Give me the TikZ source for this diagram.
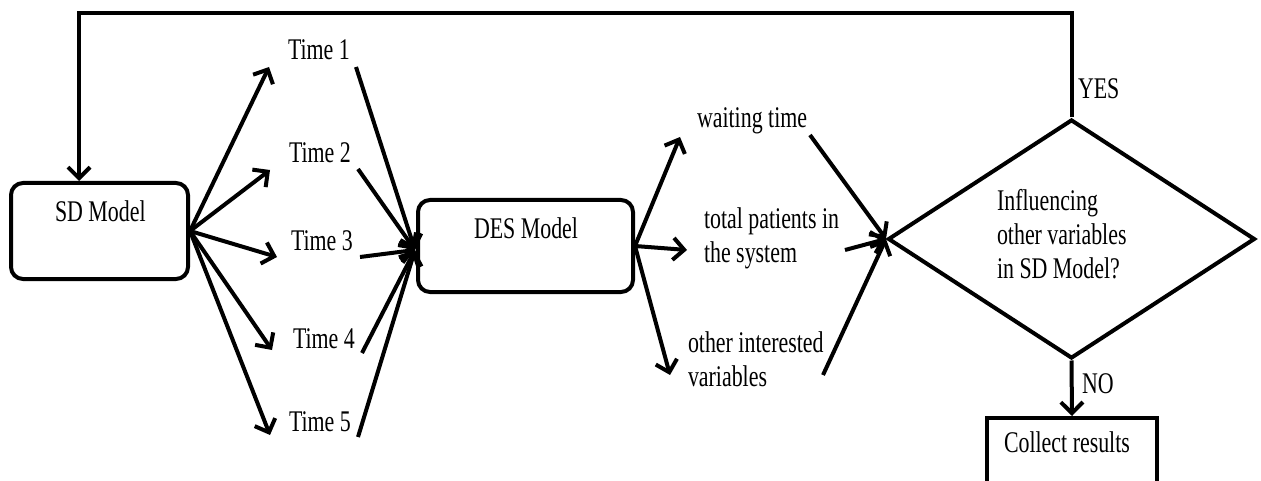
\documentclass[tikz,border=0pt]{standalone}
\usepackage{fontspec}
\setmainfont[FakeStretch=0.73]{Liberation Serif}
\usetikzlibrary{arrows.meta,shapes.geometric}
\begin{document}
\begin{tikzpicture}[x=1pt,y=-1pt, line width=4pt,
 every node/.style={font=\fontsize{30}{34}\selectfont, inner sep=0pt},
 box/.style={draw, rounded corners=12pt},
 arr/.style={-{Straight Barb[length=11pt,width=22pt]}},
 lbl/.style={anchor=base west, align=left}]
\clip (0,0) rectangle (1261,481);
% boxes
\node[box, minimum width=177pt, minimum height=96pt] (sd) at (99.5,231) {};
\node[lbl] (sdt) at (53,222) {SD Model};
\node[box, minimum width=215pt, minimum height=92pt] (des) at (525.5,246) {};
\node[lbl] (dest) at (472,239) {DES Model};
\node[draw, diamond, minimum width=367pt, minimum height=239pt] (dia) at (1071.5,239) {};
\node[lbl] (diat) at (995,278) {Influencing\\other variables\\in SD Model?};
\node[draw, minimum width=170pt, minimum height=120pt, anchor=north] (cr) at (1072,416) {};
\node[lbl] (crt) at (1002,452) {Collect results};
\node[lbl] (yes) at (1076,99) {YES};
\node[lbl] (no) at (1080,393) {NO};
% time labels
\node[lbl] (t1) at (286,60) {Time 1};
\node[lbl] (t2) at (287,163) {Time 2};
\node[lbl] (t3) at (289,251) {Time 3};
\node[lbl] (t4) at (291,348) {Time 4};
\node[lbl] (t5) at (287,431) {Time 5};
% output labels
\node[lbl] (wt) at (695,128) {waiting time};
\node[lbl] (tp) at (702,262) {total patients in\\the system};
\node[lbl] (oi) at (686,386) {other interested\\variables};
% coordinates
\coordinate (t1a) at (269,67);
\coordinate (t2a) at (270,170);
\coordinate (t3a) at (277,257);
\coordinate (t4a) at (272,350);
\coordinate (t5a) at (270,435);
\coordinate (t1b) at (356,67);
\coordinate (t2b) at (358,169);
\coordinate (t3b) at (360,257);
\coordinate (t4b) at (362,353);
\coordinate (t5b) at (358,437);
\coordinate (desin) at (415,250);
\coordinate (wa) at (680,137);
\coordinate (ta) at (687,250);
\coordinate (oa) at (670,375);
\coordinate (wb) at (810,135);
\coordinate (tb) at (845,250);
\coordinate (ob) at (823,375);
\coordinate (fbl) at (79,13);
% connectors
\foreach \i in {1,...,5} {
  \draw[arr] (sd.east) -- (t\i a);
  \draw[arr] (t\i b) -- (desin);
}
\draw[arr] (des.east) -- (wa);
\draw[arr] (des.east) -- (ta);
\draw[arr] (des.east) -- (oa);
\draw[arr] (wb) -- (dia.west);
\draw[arr] (tb) -- (dia.west);
\draw[arr] (ob) -- (dia.west);
\draw[arr] (dia.north) |- (fbl) -- (fbl |- sd.north);
\draw[arr] (dia.south) -- (cr.north);
\end{tikzpicture}
\end{document}
